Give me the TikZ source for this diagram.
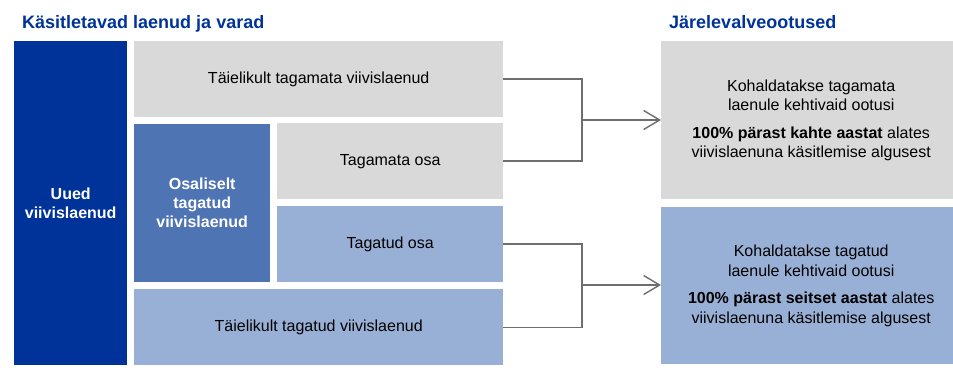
\documentclass[tikz,border=0pt]{standalone}
\usepackage{fontspec}
\setmainfont{Liberation Sans}
\usetikzlibrary{%
  arrows.meta,%
  positioning%
}
\definecolor{navy}{RGB}{0,51,153}
\definecolor{midblue}{RGB}{79,116,180}
\definecolor{paleblue}{RGB}{153,176,214}
\definecolor{lightgray}{RGB}{217,217,217}
\definecolor{linegray}{RGB}{110,110,110}

\begin{document}
\begin{tikzpicture}[
    x=1pt,y=-1pt,
    >={Straight Barb[length=16pt,width=19pt]},
    heading/.style={anchor=base west,inner sep=0pt,text=navy,
        font=\fontsize{18}{21}\selectfont\bfseries},
    box/.style={rectangle,anchor=north west,inner sep=0pt,align=center,
        font=\fontsize{16}{19.5}\selectfont},
    grey/.style={box,fill=lightgray},
    pale/.style={box,fill=paleblue},
    strong/.style={box,text=white,font=\fontsize{16}{19}\selectfont\bfseries},
    link/.style={draw=linegray,line width=1.4pt}
  ]
    \useasboundingbox (0,0) rectangle (953,371);

    \node [heading] (lefthead)  at (22,29)  {Käsitletavad laenud ja varad};
    \node [heading] (righthead) at (669,29) {Järelevalveootused};

    % vasak pool
    \node [strong,fill=navy,minimum width=113pt,minimum height=324pt]
        (uued) at (14,41) {Uued\\viivislaenud};
    \node [grey,minimum width=369pt,minimum height=76pt]
        (tagamata) at (134,41) {Täielikult tagamata viivislaenud};
    \node [strong,fill=midblue,minimum width=136pt,minimum height=158pt]
        (osaliselt) at (134,124) {Osaliselt\\tagatud\\viivislaenud};
    \node [grey,minimum width=226pt,minimum height=76pt]
        (tamosa) at (277,123) {Tagamata osa};
    \node [pale,minimum width=226pt,minimum height=76pt]
        (tatosa) at (277,206) {Tagatud osa};
    \node [pale,minimum width=369pt,minimum height=76pt]
        (tagatud) at (134,289) {Täielikult tagatud viivislaenud};

    % parem pool
    \node [grey,minimum width=300pt,minimum height=158pt]
        (ootus1) at (661,41)
        {Kohaldatakse tagamata\\laenule kehtivaid ootusi\\[8pt]
         \textbf{100\% pärast kahte aastat} alates\\
         viivislaenuna käsitlemise algusest};
    \node [pale,minimum width=300pt,minimum height=157pt]
        (ootus2) at (661,207)
        {Kohaldatakse tagatud\\laenule kehtivaid ootusi\\[8pt]
         \textbf{100\% pärast seitset aastat} alates\\
         viivislaenuna käsitlemise algusest};

    \coordinate (j1) at (582,120);
    \coordinate (j2) at (582,285);

    \draw [link] (tagamata.east) -| (j1) |- (tamosa.east);
    \draw [link,->] (j1) -- (ootus1.west |- j1);
    \draw [link] (tatosa.east) -| (j2) |- (tagatud.east);
    \draw [link,->] (j2) -- (ootus2.west |- j2);
\end{tikzpicture}
\end{document}
